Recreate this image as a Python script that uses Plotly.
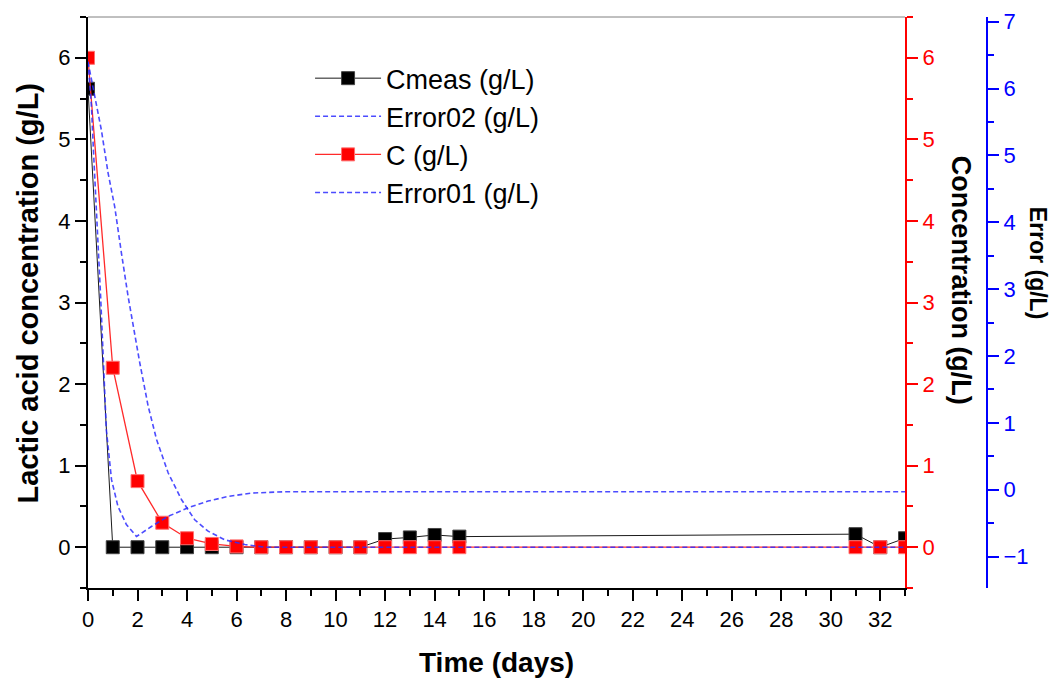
import plotly.graph_objects as go

# ---------------- data ----------------
days = [0, 1, 2, 3, 4, 5, 6, 7, 8, 9, 10, 11, 12, 13, 14, 15, 31, 32, 33]
cmeas = [5.62, 0, 0, 0, 0, 0, 0, 0, 0, 0, 0, 0, 0.10, 0.12, 0.15, 0.13, 0.16, 0, 0.11]
c_model = [6.0, 2.2, 0.81, 0.30, 0.11, 0.04, 0.01, 0, 0, 0, 0, 0, 0, 0, 0, 0, 0, 0, 0]

err02_days = [0, 0.27, 0.54, 0.81, 1.08, 1.35, 1.62, 2.09, 2.43, 2.77, 3.24, 3.78,
              4.31, 4.85, 5.53, 6.34, 7.14, 33]
err02 = [6.4, 5.88, 5.38, 4.74, 4.23, 3.54, 2.89, 1.90, 1.25, 0.75, 0.25, -0.15,
         -0.45, -0.62, -0.75, -0.82, -0.86, -0.86]

err01_days = [0, 0.14, 0.2, 0.27, 0.36, 0.43, 0.51, 0.61, 0.74, 0.95, 1.21, 1.55,
              1.96, 2.56, 3.23, 4.04, 4.85, 5.66, 6.61, 7.95, 33]
err01 = [6.4, 5.73, 5.23, 4.63, 3.99, 3.49, 2.89, 1.90, 0.90, 0.15, -0.25, -0.52,
         -0.70, -0.55, -0.40, -0.27, -0.17, -0.10, -0.05, -0.03, -0.03]

x_ticks = list(range(0, 33, 2))
left_ticks = [0, 1, 2, 3, 4, 5, 6]
blue_ticks = [-1, 0, 1, 2, 3, 4, 5, 6, 7]

FONT = "Arial, Liberation Sans, sans-serif"
BLUE_LINE = "rgba(45,45,255,0.85)"

fig = go.Figure()

fig.add_trace(go.Scatter(
    x=days, y=cmeas, name="Cmeas (g/L)", mode="lines+markers",
    line=dict(color="#1a1a1a", width=1),
    marker=dict(symbol="square", size=13, color="black", line=dict(color="#444", width=1)),
    yaxis="y"))

fig.add_trace(go.Scatter(
    x=err02_days, y=err02, name="Error02 (g/L)", mode="lines",
    line=dict(color=BLUE_LINE, width=1.6, dash="5px,3px"),
    yaxis="y3"))

fig.add_trace(go.Scatter(
    x=days, y=c_model, name="C (g/L)", mode="lines+markers",
    line=dict(color="#ff2a2a", width=1.3),
    marker=dict(symbol="square", size=13, color="#ff0000", line=dict(color="#ff7070", width=1)),
    yaxis="y2"))

fig.add_trace(go.Scatter(
    x=err01_days, y=err01, name="Error01 (g/L)", mode="lines",
    line=dict(color=BLUE_LINE, width=1.6, dash="5px,3px"),
    yaxis="y3"))

XDOM = [0, 0.9088]

fig.update_layout(
    width=1052, height=684,
    margin=dict(l=88, r=65, t=17, b=96, autoexpand=False),
    paper_bgcolor="white", plot_bgcolor="white",
    font=dict(family=FONT, size=22, color="black"),
    showlegend=True,
    legend=dict(x=0.247, y=0.935, xanchor="left", yanchor="top",
                bgcolor="rgba(0,0,0,0)", font=dict(size=27, family=FONT),
                traceorder="normal", itemwidth=66),
    xaxis=dict(domain=XDOM, range=[0, 33], tickmode="array", tickvals=x_ticks,
               showline=True, linecolor="black", linewidth=2,
               ticks="outside", ticklen=11, tickwidth=2, tickcolor="black",
               minor=dict(dtick=1, tick0=0, ticks="outside", ticklen=6, tickwidth=2, tickcolor="black"),
               showgrid=False, zeroline=False, tickfont=dict(size=22),
               automargin=False),
    yaxis=dict(range=[-0.5, 6.5], tickmode="array", tickvals=left_ticks,
               showline=True, linecolor="black", linewidth=2,
               ticks="outside", ticklen=11, tickwidth=2, tickcolor="black",
               minor=dict(dtick=0.5, tick0=0, ticks="outside", ticklen=6, tickwidth=2, tickcolor="black"),
               showgrid=False, zeroline=False, tickfont=dict(size=22),
               automargin=False),
    yaxis2=dict(range=[-0.5, 6.5], tickmode="array", tickvals=left_ticks,
                overlaying="y", side="right", anchor="x",
                showline=True, linecolor="#ff0000", linewidth=2,
                ticks="outside", ticklen=11, tickwidth=2, tickcolor="#ff0000",
                minor=dict(dtick=0.5, tick0=0, ticks="outside", ticklen=6, tickwidth=2, tickcolor="#ff0000"),
                showgrid=False, zeroline=False, tickfont=dict(size=22, color="#ff0000"),
                automargin=False),
    yaxis3=dict(range=[-1.47, 7.07], tickmode="array", tickvals=blue_ticks,
                overlaying="y", side="right", anchor="free", position=1.0,
                showline=True, linecolor="#0000ff", linewidth=2,
                ticks="outside", ticklen=11, tickwidth=2, tickcolor="#0000ff",
                minor=dict(dtick=0.5, tick0=0, ticks="outside", ticklen=6, tickwidth=2, tickcolor="#0000ff"),
                showgrid=False, zeroline=False, tickfont=dict(size=22, color="#0000ff"),
                automargin=False),
    shapes=[dict(type="line", xref="x domain", yref="y domain", x0=0, x1=1, y0=1, y1=1,
                 line=dict(color="#808080", width=1))],
    annotations=[
        dict(text="<b>Time (days)</b>", xref="paper", yref="paper", x=0.4546, y=-0.131,
             showarrow=False, font=dict(size=28, family=FONT), xanchor="center", yanchor="middle"),
        dict(text="<b>Lactic acid concentration (g/L)</b>", xref="paper", yref="paper",
             x=-0.067, y=0.517, textangle=-90, showarrow=False,
             font=dict(size=29, family=FONT), xanchor="center", yanchor="middle"),
        dict(text="<b>Concentration (g/L)</b>", xref="paper", yref="paper",
             x=0.971, y=0.538, textangle=90, showarrow=False,
             font=dict(size=27, family=FONT), xanchor="center", yanchor="middle"),
        dict(text="<b>Error (g/L)</b>", xref="paper", yref="paper",
             x=1.057, y=0.569, textangle=90, showarrow=False,
             font=dict(size=23, family=FONT), xanchor="center", yanchor="middle"),
    ],
)

fig.write_html("out.html", config={"displayModeBar": False},
               post_script="document.body.style.margin='0px';")
